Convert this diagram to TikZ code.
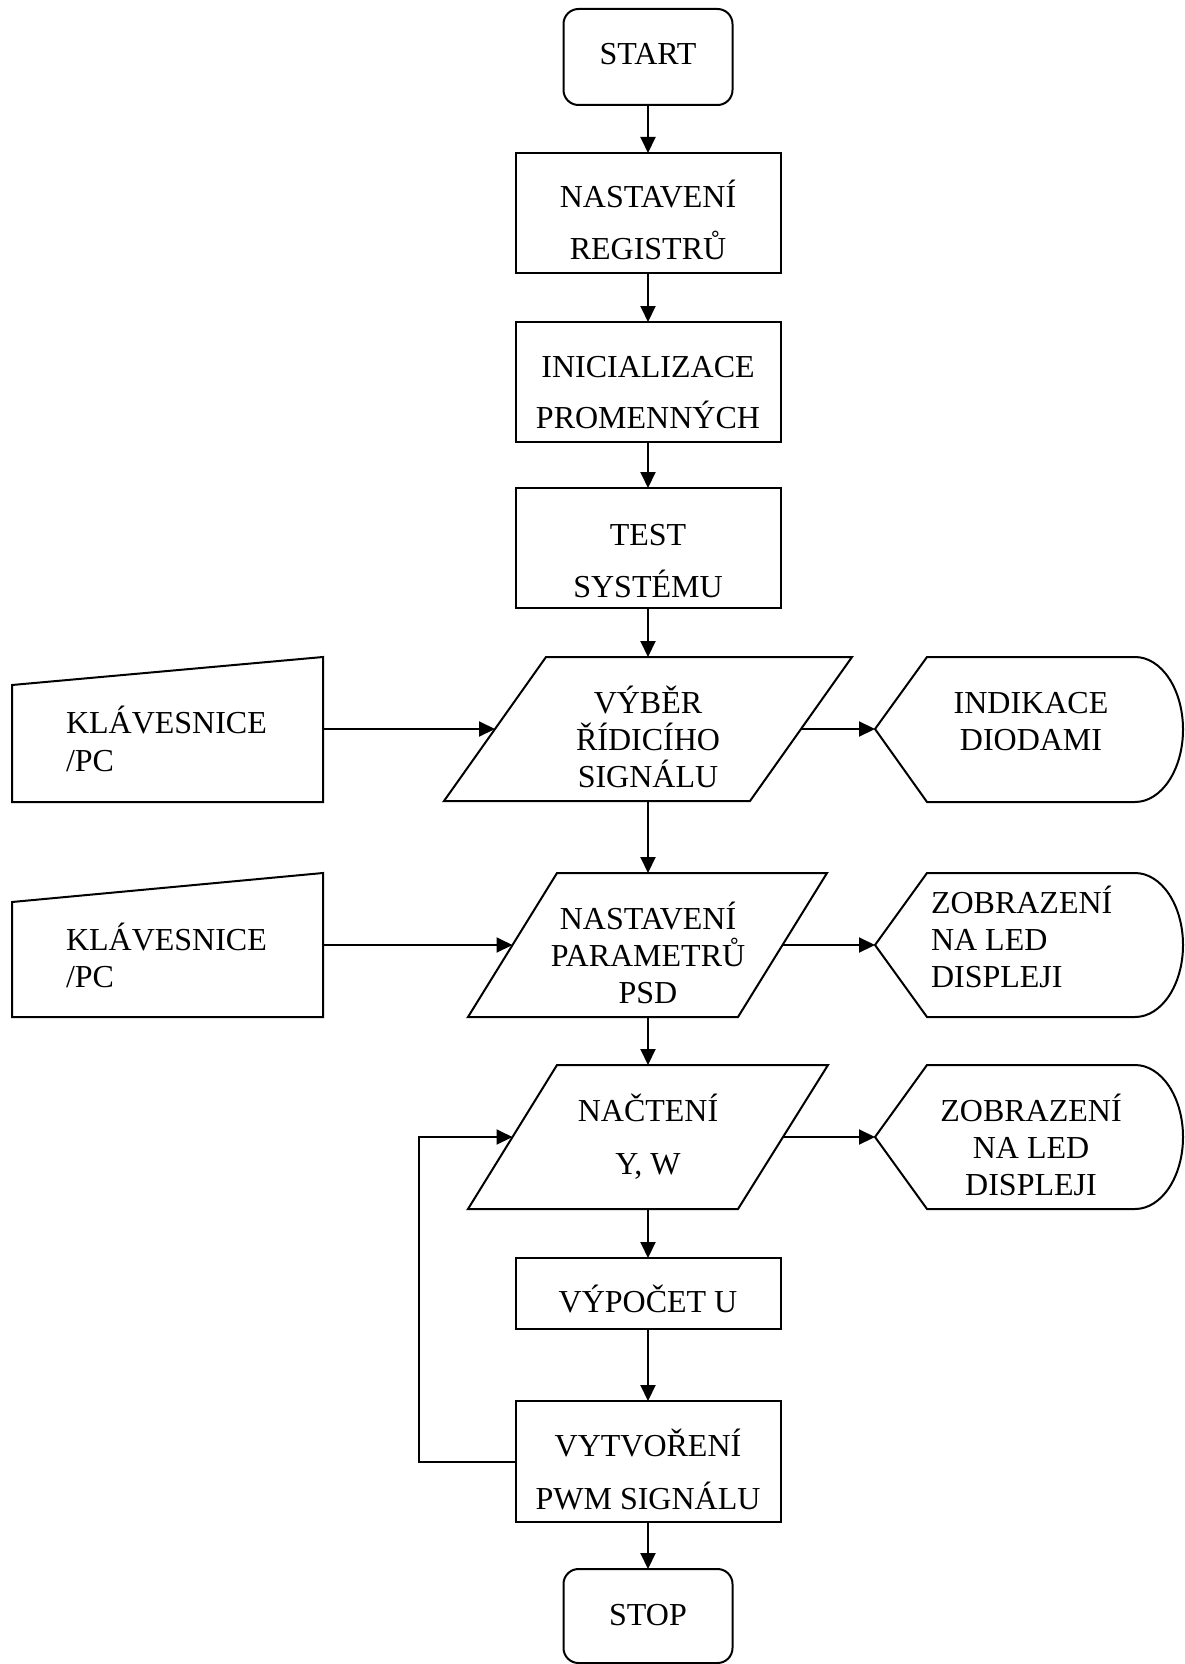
\documentclass[tikz,border=0pt]{standalone}
\usepackage{fontspec}
\setmainfont{Liberation Serif}
\usetikzlibrary{arrows.meta}
\begin{document}
\begin{tikzpicture}[x=0.5pt,y=-0.5pt,line width=1pt,
  shp/.style={draw=black,line width=1pt,inner sep=0pt,outer sep=0pt},
  boxn/.style={shp,rectangle,minimum width=132.5pt},
  term/.style={shp,rectangle,rounded corners=7.5pt,minimum width=84.5pt},
  txt/.style={font=\fontsize{16pt}{19pt}\selectfont,inner sep=0pt,anchor=base},
  ltxt/.style={txt,anchor=base west},
  arr/.style={-{Triangle[length=8pt,width=7.5pt]},line width=1pt}]
\useasboundingbox (0,0) rectangle (1184,1664);
% process column
\node[term,minimum height=48pt] (start) at (648,57) {};
\node[boxn,minimum height=60pt] (reg) at (648,213) {};
\node[boxn,minimum height=60pt] (init) at (648,382) {};
\node[boxn,minimum height=60pt] (test) at (648,548) {};
\node[boxn,minimum height=35.5pt] (calc) at (648,1293.5) {};
\node[boxn,minimum height=60.5pt] (pwm) at (648,1461.5) {};
\node[term,minimum height=47pt] (stop) at (648,1616) {};
% parallelograms
\coordinate (p1n) at (648,657); \coordinate (p1s) at (648,801);
\coordinate (p1w) at (495,729); \coordinate (p1e) at (801,729);
\draw (546,657) -- (852,657) -- (750,801) -- (444,801) -- cycle;
\coordinate (p2n) at (648,873); \coordinate (p2s) at (648,1017);
\coordinate (p2w) at (512.5,945); \coordinate (p2e) at (782.5,945);
\draw (557,873) -- (827,873) -- (738,1017) -- (468,1017) -- cycle;
\coordinate (p3n) at (648,1065); \coordinate (p3s) at (648,1209);
\coordinate (p3w) at (512.5,1137); \coordinate (p3e) at (783,1137);
\draw (557,1065) -- (828,1065) -- (738,1209) -- (468,1209) -- cycle;
% manual inputs
\coordinate (k1e) at (323,729);
\draw (12,685) -- (323,657) -- (323,802) -- (12,802) -- cycle;
\coordinate (k2e) at (323,945);
\draw (12,902) -- (323,873) -- (323,1017) -- (12,1017) -- cycle;
% displays
\coordinate (d1w) at (875,729);
\draw (d1w) -- (927,657) -- (1135,657) arc[start angle=90,end angle=-90,x radius=24pt,y radius=36.25pt] -- (927,802) -- cycle;
\coordinate (d2w) at (875,945);
\draw (d2w) -- (927,873) -- (1135,873) arc[start angle=90,end angle=-90,x radius=24pt,y radius=36pt] -- (927,1017) -- cycle;
\coordinate (d3w) at (875,1137);
\draw (d3w) -- (927,1065) -- (1135,1065) arc[start angle=90,end angle=-90,x radius=24pt,y radius=36pt] -- (927,1209) -- cycle;
% texts
\node[txt] (tstart) at (648,65) {START};
\node[txt] (treg1) at (648,208) {NASTAVENÍ};
\node[txt] (treg2) at (648,259) {REGISTRŮ};
\node[txt] (tini1) at (648,377) {INICIALIZACE};
\node[txt] (tini2) at (648,428) {PROMENNÝCH};
\node[txt] (ttest1) at (648,545) {TEST};
\node[txt] (ttest2) at (648,597) {SYSTÉMU};
\node[txt] (tp1a) at (648,713) {VÝBĚR};
\node[txt] (tp1b) at (648,750) {ŘÍDICÍHO};
\node[txt] (tp1c) at (648,787) {SIGNÁLU};
\node[txt] (td1a) at (1031,713) {INDIKACE};
\node[txt] (td1b) at (1031,750) {DIODAMI};
\node[ltxt] (tk1a) at (65,733) {KLÁVESNICE};
\node[ltxt] (tk1b) at (65,771) {/PC};
\node[txt] (tp2a) at (648,929) {NASTAVENÍ};
\node[txt] (tp2b) at (648,966) {PARAMETRŮ};
\node[txt] (tp2c) at (648,1003) {PSD};
\node[ltxt] (td2a) at (930,913) {ZOBRAZENÍ};
\node[ltxt] (td2b) at (930,950) {NA LED};
\node[ltxt] (td2c) at (930,987) {DISPLEJI};
\node[ltxt] (tk2a) at (65,950) {KLÁVESNICE};
\node[ltxt] (tk2b) at (65,987) {/PC};
\node[txt] (tp3a) at (648,1121) {NAČTENÍ};
\node[txt] (tp3b) at (648,1174) {Y, W};
\node[txt] (td3a) at (1031,1121) {ZOBRAZENÍ};
\node[txt] (td3b) at (1031,1158) {NA LED};
\node[txt] (td3c) at (1031,1195) {DISPLEJI};
\node[txt] (tcalc) at (648,1312) {VÝPOČET U};
\node[txt] (tpwm1) at (648,1456) {VYTVOŘENÍ};
\node[txt] (tpwm2) at (648,1509) {PWM SIGNÁLU};
\node[txt] (tstop) at (648,1625) {STOP};
% connectors
\draw[arr] (start.south) -- (reg.north);
\draw[arr] (reg.south) -- (init.north);
\draw[arr] (init.south) -- (test.north);
\draw[arr] (test.south) -- (p1n);
\draw[arr] (p1s) -- (p2n);
\draw[arr] (p2s) -- (p3n);
\draw[arr] (p3s) -- (calc.north);
\draw[arr] (calc.south) -- (pwm.north);
\draw[arr] (pwm.south) -- (stop.north);
\draw[arr] (k1e) -- (p1w);
\draw[arr] (p1e) -- (d1w);
\draw[arr] (k2e) -- (p2w);
\draw[arr] (p2e) -- (d2w);
\draw[arr] (p3e) -- (d3w);
\coordinate (loopx) at (419,1137);
\draw[arr] (pwm.west) -| (loopx) -- (p3w);
\end{tikzpicture}
\end{document}
